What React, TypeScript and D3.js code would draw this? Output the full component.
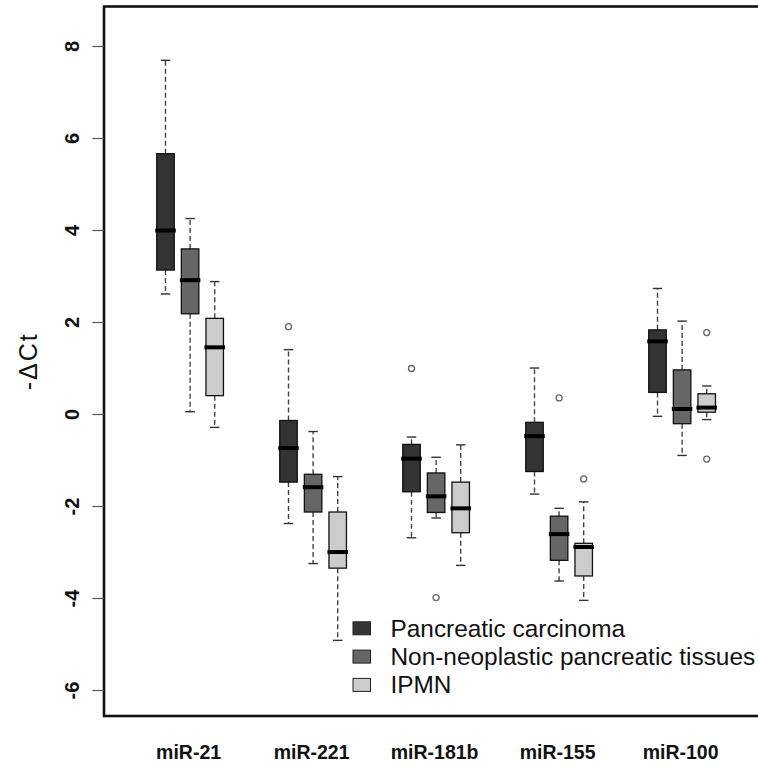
import React from "react";
import * as d3 from "d3";

const categories = ["miR-21", "miR-221", "miR-181b", "miR-155", "miR-100"];
const seriesNames = ["Pancreatic carcinoma", "Non-neoplastic pancreatic tissues", "IPMN"];
const seriesColors = ["#333333", "#666666", "#cccccc"];

// per series, per category
const whiskerLow = [
  [2.62, -2.37, -2.68, -1.73, -0.04],
  [0.06, -3.24, -2.25, -3.62, -0.89],
  [-0.28, -4.91, -3.28, -4.04, -0.11],
];
const q1 = [
  [3.14, -1.47, -1.68, -1.24, 0.48],
  [2.19, -2.12, -2.13, -3.17, -0.2],
  [0.41, -3.34, -2.57, -3.51, 0.05],
];
const medians = [
  [4.0, -0.73, -0.96, -0.47, 1.59],
  [2.92, -1.58, -1.78, -2.6, 0.12],
  [1.46, -2.99, -2.04, -2.88, 0.15],
];
const q3 = [
  [5.67, -0.13, -0.65, -0.17, 1.84],
  [3.6, -1.3, -1.27, -2.21, 0.97],
  [2.09, -2.12, -1.47, -2.8, 0.45],
];
const whiskerHigh = [
  [7.7, 1.41, -0.49, 1.01, 2.74],
  [4.26, -0.37, -0.93, -2.04, 2.03],
  [2.89, -1.35, -0.66, -1.9, 0.62],
];
const outliers: number[][][] = [
  [[], [1.91], [1.0], [], []],
  [[], [], [-3.98], [0.36], []],
  [[], [], [], [-1.4], [1.78, -0.97]],
];
const yTicks = [-6, -4, -2, 0, 2, 4, 6, 8];

export default function App() {
  const W = 758;
  const H = 767;
  const left = 104;
  const top = 6.5;
  const bottom = 716;

  const x = d3.scaleLinear().domain([0, 25]).range([140.9, 140.9 + 24.6 * 25]);
  const y = d3.scaleLinear().domain([0, 8]).range([414.5, 414.5 - 46 * 8]);
  const boxW = 17.5;
  const stapleW = 9.5;

  const pos = (g: number, s: number) => g * 5 + s + 1;

  const boxes: React.ReactNode[] = [];
  categories.forEach((cat, g) => {
    seriesNames.forEach((sn, s) => {
      const cx = x(pos(g, s));
      const lo = whiskerLow[s][g];
      const hi = whiskerHigh[s][g];
      const a = q1[s][g];
      const b = q3[s][g];
      const m = medians[s][g];
      boxes.push(
        <g key={`${g}-${s}`}>
          <line x1={cx} x2={cx} y1={y(b)} y2={y(hi)} stroke="#444" strokeWidth={1.4} strokeDasharray="5,3" />
          <line x1={cx} x2={cx} y1={y(a)} y2={y(lo)} stroke="#444" strokeWidth={1.4} strokeDasharray="5,3" />
          <line x1={cx - stapleW / 2} x2={cx + stapleW / 2} y1={y(hi)} y2={y(hi)} stroke="#333" strokeWidth={1.4} />
          <line x1={cx - stapleW / 2} x2={cx + stapleW / 2} y1={y(lo)} y2={y(lo)} stroke="#333" strokeWidth={1.4} />
          <rect x={cx - boxW / 2} y={y(b)} width={boxW} height={y(a) - y(b)} fill={seriesColors[s]} stroke="#111" strokeWidth={1.3} />
          <line x1={cx - boxW / 2 - 1.5} x2={cx + boxW / 2 + 1.5} y1={y(m)} y2={y(m)} stroke="#000" strokeWidth={4} />
          {outliers[s][g].map((o, i) => (
            <circle key={i} cx={cx} cy={y(o)} r={3} fill="none" stroke="#666" strokeWidth={1.3} />
          ))}
        </g>
      );
    });
  });

  return (
    <svg width={W} height={H} style={{ position: "absolute", left: 0, top: 0, background: "#fff" }} fontFamily="'Liberation Sans', Arial, sans-serif">
      <rect x={0} y={0} width={W} height={H} fill="#fff" />
      {boxes}
      {/* frame */}
      <rect x={left} y={top} width={800} height={bottom - top} fill="none" stroke="#111" strokeWidth={2.6} />
      {/* y axis ticks */}
      {yTicks.map((t) => (
        <g key={t}>
          <line x1={92.5} x2={left} y1={y(t)} y2={y(t)} stroke="#555" strokeWidth={1.2} />
          <text
            transform={`translate(72,${y(t)}) rotate(-90)`}
            textAnchor="middle"
            dominantBaseline="central"
            fontSize={20}
            fontWeight="bold"
            fill="#111"
          >
            {t}
          </text>
        </g>
      ))}
      <text
        transform={`translate(28,${(top + bottom) / 2}) rotate(-90)`}
        textAnchor="middle"
        dominantBaseline="central"
        fontSize={25}
        letterSpacing={2}
        fill="#111"
      >
        -ΔCt
      </text>
      {/* x labels */}
      {categories.map((c, g) => (
        <text key={c} x={x(pos(g, 1)) - 1.5} y={759} textAnchor="middle" fontSize={19.5} fontWeight="bold" fill="#111">
          {c}
        </text>
      ))}
      {/* legend */}
      {seriesNames.map((n, i) => {
        const cy = 628.3 + i * 28.3;
        return (
          <g key={n}>
            <rect x={353} y={cy - 6.5} width={17.5} height={13} fill={seriesColors[i]} stroke="#222" strokeWidth={1} />
            <text x={390.5} y={cy + 8.5} fontSize={24.4} fill="#111">
              {n}
            </text>
          </g>
        );
      })}
    </svg>
  );
}
